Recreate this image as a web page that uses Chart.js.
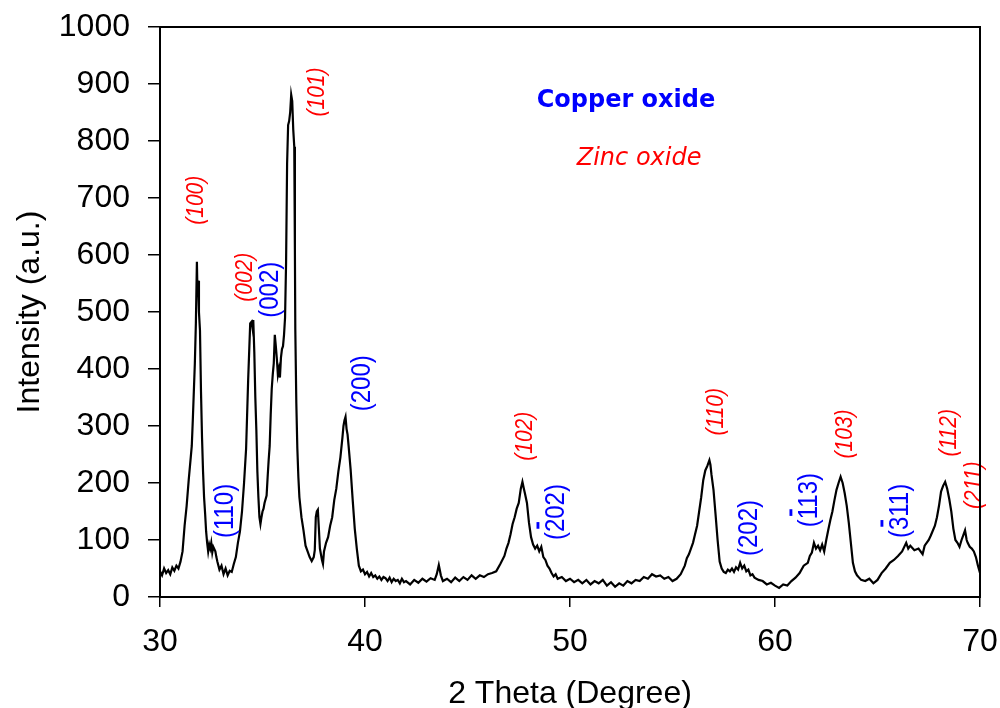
<!DOCTYPE html>
<html>
<head>
<meta charset="utf-8">
<script src="https://cdn.jsdelivr.net/npm/chart.js@4.4.1/dist/chart.umd.min.js"></script>
<style>
  html, body { margin: 0; padding: 0; background: #fff; }
  #wrap { width: 1000px; height: 708px; }
</style>
</head>
<body>
<div id="wrap"><canvas id="xrdChart"></canvas></div>
<script>
// XRD pattern
const twoTheta = [
  30.0, 30.1, 30.2, 30.3, 30.4, 30.5, 30.6, 30.7, 30.8, 30.9, 31.0, 31.1, 31.2, 31.3, 31.4, 31.5, 31.55, 31.6, 31.65, 31.7,
  31.75, 31.8, 31.83, 31.86, 31.9, 31.95, 32.0, 32.05, 32.1, 32.15, 32.2, 32.25, 32.3, 32.35, 32.4, 32.45, 32.5, 32.55, 32.6, 32.7,
  32.75, 32.8, 32.9, 33.0, 33.1, 33.2, 33.3, 33.4, 33.5, 33.6, 33.7, 33.8, 33.9, 34.0, 34.1, 34.2, 34.3, 34.4, 34.47, 34.52,
  34.55, 34.6, 34.65, 34.7, 34.75, 34.8, 34.85, 34.9, 34.95, 35.0, 35.05, 35.1, 35.2, 35.25, 35.3, 35.35, 35.4, 35.45, 35.5, 35.55,
  35.6, 35.65, 35.7, 35.75, 35.8, 35.85, 35.9, 35.95, 36.0, 36.05, 36.1, 36.15, 36.2, 36.25, 36.3, 36.35, 36.4, 36.45, 36.5, 36.55,
  36.58, 36.6, 36.65, 36.7, 36.75, 36.8, 36.9, 37.0, 37.1, 37.2, 37.3, 37.4, 37.5, 37.55, 37.6, 37.65, 37.7, 37.75, 37.8, 37.85,
  37.9, 37.95, 38.0, 38.1, 38.2, 38.3, 38.4, 38.5, 38.6, 38.7, 38.8, 38.9, 38.95, 39.0, 39.05, 39.1, 39.15, 39.2, 39.3, 39.4,
  39.5, 39.6, 39.7, 39.8, 39.9, 40.0, 40.1, 40.2, 40.3, 40.4, 40.5, 40.6, 40.7, 40.8, 40.9, 41.0, 41.1, 41.2, 41.3, 41.4,
  41.5, 41.6, 41.7, 41.8, 41.9, 42.0, 42.2, 42.4, 42.6, 42.8, 43.0, 43.2, 43.4, 43.5, 43.6, 43.7, 43.8, 44.0, 44.2, 44.4,
  44.6, 44.8, 45.0, 45.2, 45.4, 45.6, 45.8, 46.0, 46.2, 46.4, 46.6, 46.8, 46.9, 47.0, 47.1, 47.2, 47.3, 47.4, 47.5, 47.6,
  47.68, 47.75, 47.8, 47.9, 48.0, 48.1, 48.2, 48.3, 48.4, 48.5, 48.6, 48.7, 48.8, 48.9, 49.0, 49.1, 49.2, 49.3, 49.4, 49.6,
  49.8, 50.0, 50.2, 50.4, 50.6, 50.8, 51.0, 51.2, 51.4, 51.6, 51.8, 52.0, 52.2, 52.4, 52.6, 52.8, 53.0, 53.2, 53.4, 53.6,
  53.8, 54.0, 54.2, 54.4, 54.6, 54.8, 55.0, 55.2, 55.4, 55.6, 55.7, 55.8, 55.9, 56.0, 56.1, 56.2, 56.3, 56.4, 56.5, 56.6,
  56.7, 56.8, 56.85, 56.9, 57.0, 57.1, 57.2, 57.3, 57.4, 57.5, 57.6, 57.7, 57.8, 57.9, 58.0, 58.1, 58.2, 58.3, 58.4, 58.5,
  58.6, 58.7, 58.8, 58.9, 59.0, 59.2, 59.4, 59.6, 59.8, 60.0, 60.2, 60.4, 60.6, 60.8, 61.0, 61.2, 61.4, 61.6, 61.7, 61.8,
  61.9, 62.0, 62.1, 62.2, 62.3, 62.4, 62.5, 62.6, 62.7, 62.8, 62.9, 63.0, 63.1, 63.2, 63.3, 63.4, 63.5, 63.6, 63.7, 63.8,
  63.9, 64.0, 64.1, 64.2, 64.4, 64.6, 64.8, 65.0, 65.2, 65.4, 65.6, 65.8, 66.0, 66.2, 66.4, 66.5, 66.6, 66.8, 67.0, 67.2,
  67.3, 67.5, 67.6, 67.8, 67.9, 68.0, 68.1, 68.2, 68.3, 68.4, 68.5, 68.6, 68.7, 68.8, 68.9, 69.0, 69.1, 69.2, 69.27, 69.35,
  69.4, 69.5, 69.6, 69.7, 69.8, 69.9, 70.0
];
const intensity = [
  45, 38, 50, 42, 47, 40, 52, 46, 55, 50, 62, 80, 125, 160, 205, 245, 265, 310, 360, 410,
  480, 588, 530, 555, 500, 468, 360, 280, 220, 175, 147, 115, 95, 80, 92, 85, 95, 78, 88, 80,
  70, 62, 48, 55, 40, 50, 38, 46, 44, 58, 70, 95, 115, 150, 200, 260, 380, 480, 483, 470,
  486, 430, 350, 293, 220, 175, 140, 128, 140, 150, 155, 165, 178, 210, 240, 265, 320, 365, 390, 410,
  460, 440, 418, 390, 400, 385, 420, 435, 440, 460, 490, 586, 760, 828, 835, 850, 881, 870, 820, 790,
  610, 470, 340, 260, 210, 175, 140, 117, 90, 80, 70, 63, 70, 82, 140, 150, 153, 120, 85, 75,
  65, 58, 80, 95, 105, 125, 140, 170, 190, 220, 245, 280, 300, 310, 316, 295, 285, 265, 223, 170,
  120, 85, 55, 45, 48, 40, 44, 36, 42, 35, 38, 32, 36, 30, 35, 33, 28, 34, 26, 32,
  28, 30, 24, 32, 26, 28, 22, 30, 25, 32, 27, 33, 30, 40, 56, 38, 28, 32, 26, 34,
  28, 35, 30, 38, 32, 38, 35, 40, 42, 45, 58, 72, 85, 95, 110, 128, 140, 155, 165, 190,
  202, 190, 182, 165, 130, 105, 92, 85, 90, 80, 88, 70, 65, 55, 50, 42, 36, 40, 32, 35,
  28, 32, 26, 30, 24, 30, 22, 28, 24, 30, 20, 26, 18, 24, 20, 28, 24, 30, 28, 35,
  32, 40, 36, 38, 32, 35, 28, 32, 40, 55, 68, 75, 85, 95, 110, 125, 150, 175, 205, 222,
  230, 240, 232, 215, 188, 145, 100, 62, 50, 44, 42, 48, 45, 50, 44, 52, 48, 60, 50, 55,
  45, 48, 38, 40, 34, 30, 28, 22, 25, 20, 16, 22, 20, 28, 34, 42, 55, 60, 72, 78,
  95, 85, 90, 82, 92, 80, 100, 118, 135, 150, 170, 188, 200, 211, 200, 182, 160, 130, 95, 60,
  45, 38, 34, 30, 28, 32, 24, 30, 42, 50, 60, 65, 72, 80, 95, 85, 90, 82, 85, 75,
  90, 100, 108, 125, 140, 160, 185, 195, 202, 190, 172, 150, 120, 100, 95, 88, 100, 110, 117, 100,
  95, 88, 85, 80, 70, 55, 42
];

// peak labels: ZnO (red italic) and CuO (blue)
const znoLabels = ['(100)', '(101)', '(002)', '(102)', '(110)', '(103)', '(112)', '(211)'];
const znoAt2Theta = [31.8, 37.7, 34.15, 47.85, 57.17, 63.46, 68.5, 69.75];
const znoAtY = [696, 886, 561, 282, 325, 286, 288, 196];

const cuoLabels = ['(110)', '(002)', '(200)', '(202)', '(202)', '(113)', '(311)'];
const cuoBarOn = [-1, -1, -1, 1, -1, 1, 1]; // index of the digit carrying the bar (negative = none)
const cuoAt2Theta = [33.17, 35.4, 39.85, 49.32, 58.73, 61.66, 66.1];
const cuoAtY = [151, 539, 375, 149, 121, 170, 151];

const xTicks = [30, 40, 50, 60, 70];
const yTicks = [0, 100, 200, 300, 400, 500, 600, 700, 800, 900, 1000];

const points = twoTheta.map((t, i) => ({ x: t, y: intensity[i] }));

const labelPlugin = {
  id: 'peakLabels',
  afterDatasetsDraw(chart) {
    const ctx = chart.ctx;
    const sx = chart.scales.x, sy = chart.scales.y;
    function vtext(txt, xv, yv, font, color, barIdx, stretch) {
      ctx.save();
      ctx.translate(sx.getPixelForValue(xv), sy.getPixelForValue(yv));
      ctx.scale(stretch, 1);
      ctx.rotate(-Math.PI / 2);
      ctx.font = font;
      ctx.fillStyle = color;
      ctx.textAlign = 'center';
      ctx.textBaseline = 'middle';
      ctx.fillText(txt, 0, 0);
      if (barIdx >= 0) {
        const w = ctx.measureText(txt).width;
        const x0 = -w / 2 + ctx.measureText(txt.slice(0, barIdx)).width;
        const cw = ctx.measureText(txt[barIdx]).width;
        ctx.fillRect(x0 + cw * 0.25, -17, cw * 0.5, 2.5);
      }
      ctx.restore();
    }
    znoLabels.forEach((l, i) => vtext(l, znoAt2Theta[i], znoAtY[i], 'italic 21px "Liberation Sans", Arial, sans-serif', '#ff0000', -1, 1.1));
    cuoLabels.forEach((l, i) => vtext(l, cuoAt2Theta[i], cuoAtY[i], '24px "Liberation Sans", Arial, sans-serif', '#0000ff', cuoBarOn[i], 1.15));

    // legend-like captions
    ctx.save();
    ctx.textAlign = 'center';
    ctx.textBaseline = 'middle';
    ctx.font = 'bold 24px "DejaVu Sans", sans-serif';
    ctx.fillStyle = '#0000ff';
    ctx.fillText('Copper oxide', sx.getPixelForValue(52.73), sy.getPixelForValue(870));
    ctx.font = 'oblique 24px "DejaVu Sans", sans-serif';
    ctx.fillStyle = '#ff0000';
    ctx.fillText('Zinc oxide', sx.getPixelForValue(53.37), sy.getPixelForValue(769));
    ctx.restore();
  },
  afterDraw(chart) {
    const a = chart.chartArea;
    const ctx = chart.ctx;
    ctx.save();
    ctx.strokeStyle = '#000';
    ctx.lineWidth = 2;
    ctx.strokeRect(a.left, a.top, a.right - a.left, a.bottom - a.top);
    ctx.restore();
  }
};

const axisFont = '"Liberation Sans", Arial, sans-serif';

new Chart(document.getElementById('xrdChart'), {
  type: 'scatter',
  data: {
    datasets: [{
      data: points,
      showLine: true,
      borderColor: '#000',
      borderWidth: 2.2,
      pointRadius: 0,
      tension: 0
    }]
  },
  options: {
    responsive: true,
    maintainAspectRatio: false,
    animation: false,
    layout: { padding: { top: 27, right: 20, left: 0, bottom: 0 } },
    plugins: { legend: { display: false }, tooltip: { enabled: false } },
    scales: {
      x: {
        type: 'linear',
        min: 30, max: 70,
        afterBuildTicks: s => { s.ticks = xTicks.map(v => ({ value: v })); },
        afterFit: s => { s.height = 111; s.paddingLeft = 0; s.paddingRight = 0; },
        grid: { drawOnChartArea: false, drawTicks: true, tickLength: 10, color: '#000', lineWidth: 1.5 },
        border: { color: '#000', width: 2 },
        ticks: { color: '#000', padding: 16, maxRotation: 0, callback: v => String(v),
                 font: { family: axisFont, size: 32 } },
        title: { display: true, text: '2 Theta (Degree)', color: '#000', padding: { top: 0, bottom: 0 },
                 font: { family: axisFont, size: 32, lineHeight: 0.85 } }
      },
      y: {
        min: 0, max: 1000,
        afterBuildTicks: s => { s.ticks = yTicks.map(v => ({ value: v })); },
        afterFit: s => { s.width = 160; s.paddingTop = 0; s.paddingBottom = 0; },
        grid: { drawOnChartArea: false, drawTicks: true, tickLength: 12, color: '#000', lineWidth: 1.5 },
        border: { color: '#000', width: 2 },
        ticks: { color: '#000', padding: 18, callback: v => String(v), font: { family: axisFont, size: 32 } },
        title: { display: true, text: 'Intensity (a.u.)', color: '#000', padding: { top: 11, bottom: 0 },
                 font: { family: axisFont, size: 32 } }
      }
    }
  },
  plugins: [labelPlugin]
});
</script>
</body>
</html>
